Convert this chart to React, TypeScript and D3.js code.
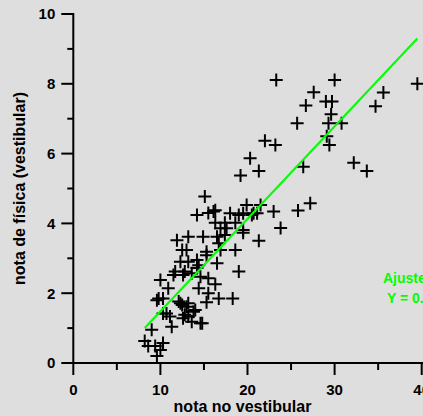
import React from "react";
import * as d3 from "d3";

const WIDTH = 423;
const HEIGHT = 416;

// nota no vestibular
const examScores = [
  8.2, 9.0, 8.6, 9.4, 10.0, 9.6, 10.3,
  10.7, 11.1, 11.3, 10.3, 12.6, 13.2, 13.8, 14.6, 13.6, 14.0, 12.8, 14.8,
  9.8, 10.3, 9.6, 12.1, 12.5, 13.0, 13.2, 12.3, 15.3,
  10.9, 14.4, 15.5, 16.7, 18.3,
  10.0, 11.5, 12.6, 13.6, 14.6, 15.5, 16.3, 11.7, 12.8, 14.2,
  12.3, 13.2, 14.4, 14.2, 16.5, 19.0,
  12.5, 13.0, 15.3, 15.3, 16.9, 18.6, 16.7,
  11.9, 13.2, 14.9, 16.5, 17.4, 19.5, 21.3,
  16.9, 17.6, 16.3, 17.4, 18.6, 19.5, 23.8,
  14.2, 16.1, 16.3, 18.0, 19.0, 19.5, 19.9, 20.5, 20.7, 21.1, 21.5, 23.0, 15.5,
  15.1, 25.8, 27.2,
  23.3, 30.0, 27.6, 29.0, 29.7, 26.7, 29.6, 25.7, 29.3, 30.8, 29.1, 29.4,
  22.0, 23.2, 20.3, 19.2, 21.3, 26.4, 39.5, 35.6, 34.7, 32.2, 33.7,
];

// nota de física (vestibular)
const physicsScores = [
  0.63, 0.95, 0.49, 0.49, 0.37, 0.2, 0.57,
  1.42, 1.33, 1.04, 1.42, 1.28, 1.33, 1.47, 1.14, 1.18, 1.52, 1.38, 1.14,
  1.85, 1.85, 1.8, 1.76, 1.66, 1.61, 1.71, 1.71, 1.74,
  2.14, 2.14, 2.0, 1.85, 1.85,
  2.38, 2.52, 2.52, 2.57, 2.47, 2.43, 2.26, 2.62, 2.62, 2.72,
  2.9, 2.9, 2.8, 2.95, 2.86, 2.62,
  3.24, 3.24, 3.09, 3.19, 3.24, 3.24, 3.43,
  3.52, 3.62, 3.62, 3.62, 3.67, 3.73, 3.5,
  3.86, 3.86, 4.02, 4.02, 4.02, 3.81, 3.87,
  4.24, 4.34, 4.38, 4.29, 4.24, 4.29, 4.53, 4.24, 4.29, 4.29, 4.53, 4.34, 4.3,
  4.77, 4.37, 4.58,
  8.11, 8.11, 7.76, 7.49, 7.49, 7.38, 7.13, 6.87, 6.87, 6.87, 6.5, 6.25,
  6.37, 6.25, 5.87, 5.37, 5.5, 5.62, 8.0, 7.75, 7.36, 5.74, 5.5,
];

const FIT_SLOPE = 0.265;
const FIT_INTERCEPT = -1.17;
const fitLabel = ["Ajuste linear", "Y = 0.265X - 1.17"];

const xTicks = [0, 10, 20, 30, 40];
const xMinorTicks = [5, 15, 25, 35];
const yTicks = [0, 2, 4, 6, 8, 10];
const yMinorTicks = [1, 3, 5, 7, 9];

export default function App() {
  const x = d3.scaleLinear().domain([0, 40]).range([73.3, 421.7]);
  const y = d3.scaleLinear().domain([0, 10]).range([363, 14]);

  const pts = examScores.map((v, i) => [v, physicsScores[i]]);
  const xMin = d3.min(examScores) as number;
  const xMax = d3.max(examScores) as number;

  const line = d3
    .line<number>()
    .x((d) => x(d))
    .y((d) => y(FIT_SLOPE * d + FIT_INTERCEPT));

  const arm = 6.5;
  const font = "'Liberation Sans', Arial, sans-serif";

  return (
    <svg
      width={WIDTH}
      height={HEIGHT}
      style={{ position: "absolute", left: 0, top: 0 }}
      fontFamily={font}
      fontWeight="bold"
    >
      <rect width={WIDTH} height={HEIGHT} fill="#dedede" />

      {/* axes */}
      <g stroke="#000" strokeWidth={2}>
        <line x1={x(0)} x2={x(0)} y1={y(10) - 1} y2={y(0)} />
        <line x1={x(0)} x2={WIDTH} y1={y(0)} y2={y(0)} />
        {yTicks.map((t) => (
          <line key={"ym" + t} x1={x(0) - 12} x2={x(0)} y1={y(t)} y2={y(t)} />
        ))}
        {yMinorTicks.map((t) => (
          <line key={"yn" + t} x1={x(0) - 6} x2={x(0)} y1={y(t)} y2={y(t)} />
        ))}
        {xTicks.map((t) => (
          <line key={"xm" + t} x1={x(t)} x2={x(t)} y1={y(0)} y2={y(0) + 12} />
        ))}
        {xMinorTicks.map((t) => (
          <line key={"xn" + t} x1={x(t)} x2={x(t)} y1={y(0)} y2={y(0) + 7} />
        ))}
      </g>

      <g fontSize={15} fill="#000">
        {yTicks.map((t) => (
          <text key={t} x={x(0) - 18} y={y(t)} dy="0.36em" textAnchor="end">
            {t}
          </text>
        ))}
        {xTicks.map((t) => (
          <text key={t} x={x(t)} y={395} textAnchor="middle">
            {t}
          </text>
        ))}
      </g>

      <text x={242.5} y={412} textAnchor="middle" fontSize={16}>
        nota no vestibular
      </text>
      <text
        transform={`translate(25,${(y(0) + y(10)) / 2}) rotate(-90)`}
        textAnchor="middle"
        fontSize={16}
      >
        nota de física (vestibular)
      </text>

      {/* points */}
      <g stroke="#000" strokeWidth={2}>
        {pts.map(([a, b], i) => (
          <path
            key={i}
            d={`M${x(a) - arm},${y(b)}H${x(a) + arm}M${x(a)},${y(b) - arm}V${y(b) + arm}`}
          />
        ))}
      </g>

      <path d={line([xMin, xMax]) || ""} stroke="#00ff00" strokeWidth={2} fill="none" />

      <g fill="#00ff00" fontSize={14}>
        <text x={383} y={283}>{fitLabel[0]}</text>
        <text x={387} y={303}>{fitLabel[1]}</text>
      </g>
    </svg>
  );
}
